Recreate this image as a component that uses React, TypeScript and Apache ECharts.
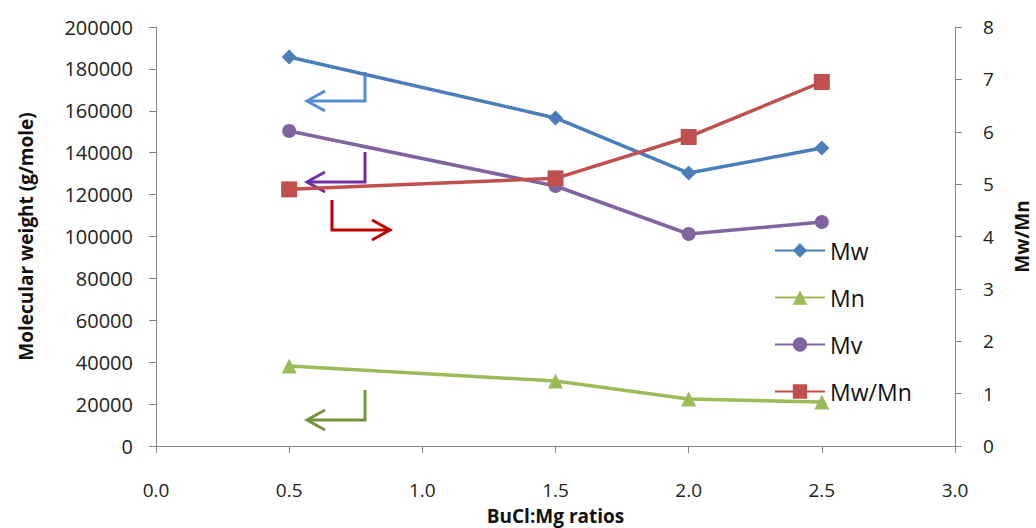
import React, { useEffect, useRef } from "react";
import * as echarts from "echarts";

const xValues = [0.5, 1.5, 2.0, 2.5];
const mwValues = [185700, 156600, 130300, 142200];
const mnValues = [38200, 31000, 22400, 21000];
const mvValues = [150400, 124100, 101200, 106900];
const ratioValues = [4.9, 5.11, 5.9, 6.95];

const FONT = "'Open Sans', Lato, sans-serif";

function pairs(ys: number[]) {
  return xValues.map((x, i) => [x, ys[i]]);
}

function arrow(pts: number[][], dir: "left" | "right", color: string) {
  const tip = pts[pts.length - 1];
  const d = dir === "left" ? 1 : -1;
  return [
    { type: "polyline", shape: { points: pts }, style: { stroke: color, lineWidth: 3, fill: "none" } },
    {
      type: "polyline",
      shape: { points: [[tip[0] + 18 * d, tip[1] - 10], tip, [tip[0] + 18 * d, tip[1] + 10]] },
      style: { stroke: color, lineWidth: 3, fill: "none" },
    },
  ];
}

export default function App() {
  const ref = useRef<HTMLDivElement>(null);
  useEffect(() => {
    const chart = echarts.init(ref.current!, null, { renderer: "svg" });
    const axisLine = { show: true, lineStyle: { color: "#868686", width: 1 } };
    const axisLabel = { color: "#222", fontSize: 19, fontFamily: FONT };
    const nameStyle = { fontSize: 19, fontWeight: "bold", color: "#111", fontFamily: FONT };
    chart.setOption({
      animation: false,
      backgroundColor: "#fff",
      grid: { left: 156, right: 81, top: 27, bottom: 82, containLabel: false, outerBoundsMode: "none" },
      legend: {
        orient: "vertical",
        left: 769,
        top: 234,
        align: "left",
        itemWidth: 50,
        itemHeight: 18,
        itemGap: 24,
        textStyle: { fontSize: 23, color: "#111", fontFamily: FONT, lineHeight: 22 },
        data: ["Mw", "Mn", "Mv", "Mw/Mn"],
      },
      xAxis: {
        type: "value",
        min: 0,
        max: 3,
        interval: 0.5,
        axisLine,
        axisTick: { show: true, length: 7, lineStyle: { color: "#868686" } },
        splitLine: { show: false },
        axisLabel: { ...axisLabel, margin: 34, formatter: (v: number) => v.toFixed(1) },
        name: "BuCl:Mg ratios",
        nameLocation: "middle",
        nameGap: 60,
        nameTextStyle: nameStyle,
      },
      yAxis: [
        {
          type: "value",
          min: 0,
          max: 200000,
          interval: 20000,
          position: "left",
          axisLine,
          axisTick: { show: true, length: 7, lineStyle: { color: "#868686" } },
          splitLine: { show: false },
          axisLabel: { ...axisLabel, fontSize: 20, margin: 23, formatter: (v: number) => String(v) },
          name: "Molecular weight (g/mole)",
          nameLocation: "middle",
          nameRotate: 90,
          nameGap: 121,
          nameTextStyle: nameStyle,
        },
        {
          type: "value",
          min: 0,
          max: 8,
          interval: 1,
          position: "right",
          axisLine,
          axisTick: { show: true, length: 7, lineStyle: { color: "#868686" } },
          splitLine: { show: false },
          axisLabel: { ...axisLabel, margin: 28, formatter: (v: number) => String(v) },
          name: "Mw/Mn",
          nameLocation: "middle",
          nameRotate: 90,
          nameGap: 57,
          nameTextStyle: nameStyle,
        },
      ],
      series: [
        {
          name: "Mw",
          type: "line",
          data: pairs(mwValues),
          symbol: "diamond",
          symbolSize: 15,
          lineStyle: { width: 3.5, color: "#4A7EBB" },
          itemStyle: { color: "#4A7EBB" },
        },
        {
          name: "Mn",
          type: "line",
          data: pairs(mnValues),
          symbol: "triangle",
          symbolSize: 15,
          lineStyle: { width: 3.5, color: "#9BBB59" },
          itemStyle: { color: "#9BBB59" },
        },
        {
          name: "Mv",
          type: "line",
          data: pairs(mvValues),
          symbol: "circle",
          symbolSize: 14,
          lineStyle: { width: 3.5, color: "#8064A2" },
          itemStyle: { color: "#8064A2" },
        },
        {
          name: "Mw/Mn",
          type: "line",
          yAxisIndex: 1,
          data: pairs(ratioValues),
          symbol: "rect",
          symbolSize: 16,
          lineStyle: { width: 3.5, color: "#C0504D" },
          itemStyle: { color: "#C0504D" },
        },
      ],
      graphic: [
        ...arrow([[365, 72], [365, 101], [307, 101]], "left", "#558ED5"),
        ...arrow([[365, 152], [365, 182], [307, 182]], "left", "#7030A0"),
        ...arrow([[332, 200], [332, 230], [390, 230]], "right", "#C00000"),
        ...arrow([[365, 390], [365, 420], [307, 420]], "left", "#77933C"),
      ],
    });
    return () => chart.dispose();
  }, []);
  return <div ref={ref} style={{ position: "fixed", left: 0, top: 0, width: 1036, height: 528 }} />;
}
